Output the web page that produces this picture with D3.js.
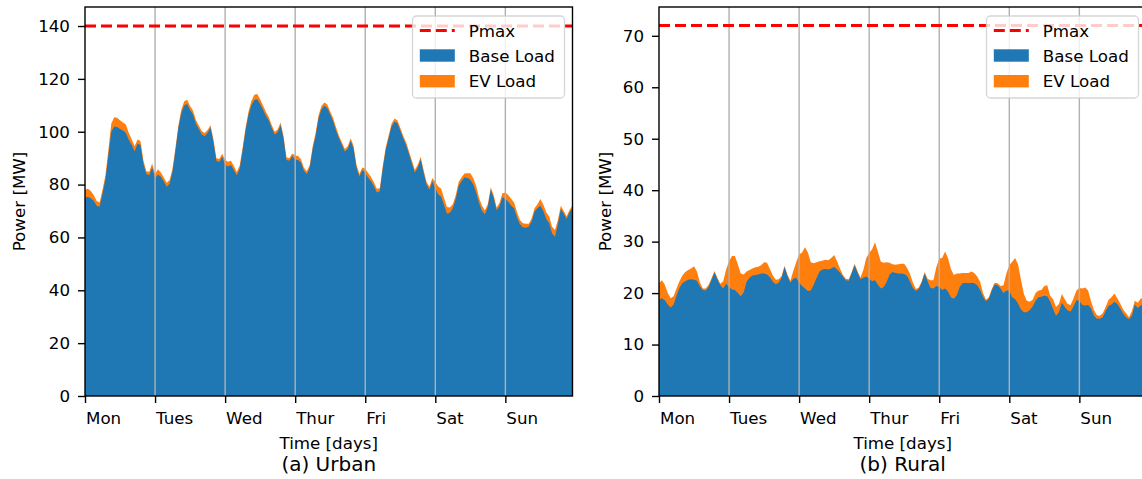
<!DOCTYPE html>
<html><head><meta charset="utf-8">
<script src="https://cdn.jsdelivr.net/npm/d3@7"></script>
<style>body{margin:0;background:#fff}svg{display:block}text{font-family:"DejaVu Sans",sans-serif}</style>
</head><body>
<svg id="c" width="1142" height="479"></svg>
<script>
const dayLabels = ["Mon","Tues","Wed","Thur","Fri","Sat","Sun"];
const dayTickHours = [0,24,48,72,96,120,144];
const urbanYTicks = [0,20,40,60,80,100,120,140];
const ruralYTicks = [0,10,20,30,40,50,60,70];
const urbanPmax = 140;
const ruralPmax = 72;
const legendLabels = ["Pmax","Base Load","EV Load"];

const urbanBase = [
75.0,75.4,74.8,73.8,72.0,71.6,76.5,82.0,91.0,100.0,102.0,101.8,101.0,100.5,99.5,97.0,95.0,92.5,95.5,95.0,88.0,84.0,83.5,86.5,
82.4,83.8,83.0,81.2,79.2,80.3,85.0,93.0,101.5,107.0,110.0,110.5,108.2,106.5,103.0,101.0,99.0,98.3,99.5,101.5,96.2,89.0,88.5,90.5,
87.5,86.8,87.4,85.5,83.5,86.0,93.0,100.5,106.3,110.0,112.0,112.3,110.5,108.3,106.0,104.2,101.3,99.0,99.8,102.5,97.5,89.3,89.0,90.8,
89.5,89.3,88.3,85.2,84.0,86.5,93.5,98.5,105.0,108.5,109.8,109.0,106.5,104.0,100.5,97.5,95.0,92.5,93.5,96.5,93.7,86.5,83.0,85.5,
84.5,82.6,81.3,79.3,77.0,77.5,86.0,93.0,97.5,102.0,103.8,103.3,100.5,97.5,95.0,91.5,88.0,84.5,86.5,89.5,84.5,80.0,78.0,81.3,
78.5,76.3,75.4,72.3,69.0,69.3,71.0,74.5,79.5,81.3,82.7,82.5,81.8,80.0,77.0,73.0,70.0,68.8,71.5,78.0,75.0,70.3,71.8,75.2,
74.5,73.5,72.0,71.0,67.5,65.0,63.9,63.7,64.0,66.0,69.8,71.0,72.0,70.0,67.0,65.5,61.5,60.3,65.0,70.8,69.0,67.0,69.5,71.0
];
const urbanEV = [
3.0,3.0,2.8,2.2,1.8,1.6,1.5,1.5,2.0,3.0,3.5,3.5,3.3,3.0,3.2,2.5,2.2,2.0,1.6,1.5,1.2,1.0,1.4,1.5,
1.6,2.0,1.6,1.5,1.5,1.4,1.2,1.0,1.0,1.4,1.5,1.6,1.5,1.5,1.4,1.4,1.3,1.2,1.2,1.0,1.0,1.0,1.2,1.2,
1.8,1.8,1.6,1.5,1.3,1.2,1.0,1.0,1.3,1.6,2.0,2.0,1.8,1.6,1.5,1.3,1.2,1.0,1.0,1.0,1.0,1.0,1.0,1.0,
1.5,1.5,1.3,1.2,1.0,1.0,1.0,1.0,1.2,1.2,1.3,1.3,1.2,1.2,1.2,1.0,1.0,1.0,1.0,1.0,1.0,1.0,1.0,1.0,
1.5,1.8,1.6,1.5,1.3,1.2,1.0,1.0,1.0,1.0,1.2,1.0,1.0,1.0,1.0,1.0,1.0,1.0,1.0,1.0,1.0,1.0,1.2,1.2,
2.5,3.0,3.0,2.6,2.5,2.0,1.6,1.5,1.5,1.5,1.5,1.8,2.5,2.5,2.5,2.0,2.0,1.5,1.2,1.0,1.0,1.0,1.2,1.5,
2.5,2.6,2.5,2.2,2.0,1.6,1.5,1.5,1.2,1.2,1.2,1.6,2.5,2.5,2.5,2.5,2.5,2.5,1.6,1.2,1.0,1.0,1.0,1.0
];
const ruralBase = [
18.7,19.0,18.6,17.8,17.2,17.8,19.5,21.0,21.9,22.3,22.6,22.7,22.6,22.4,21.3,20.6,20.5,21.2,22.6,24.0,22.7,21.5,20.9,21.8,
21.2,20.7,20.6,20.0,19.4,20.1,22.2,23.0,23.4,23.5,23.6,23.8,23.8,23.6,23.1,22.2,21.7,22.0,23.0,25.0,23.3,22.0,22.8,23.0,
22.0,21.4,20.9,20.4,20.5,21.6,23.0,24.2,24.6,24.7,24.6,24.8,25.1,24.6,24.0,23.2,22.5,22.4,23.8,25.4,24.0,22.7,23.0,23.2,
22.8,22.3,22.5,21.6,20.9,21.2,22.2,23.6,24.1,23.9,23.8,23.8,23.7,23.3,22.2,21.0,20.4,20.8,22.0,23.8,22.3,21.0,20.9,21.4,
21.2,20.6,20.9,20.3,19.2,18.9,19.6,21.2,21.9,22.0,21.9,22.0,21.9,21.5,20.6,19.3,18.4,18.9,20.5,21.7,21.5,20.9,20.0,20.5,
20.4,19.2,18.8,18.0,16.8,16.3,16.3,16.7,17.4,18.5,19.2,19.3,19.5,19.4,18.3,16.9,15.6,16.3,18.1,17.3,16.6,16.4,17.4,18.6,
18.5,17.7,17.6,17.7,17.0,15.6,15.0,15.0,15.3,16.5,17.5,17.8,18.3,17.9,17.0,16.0,15.3,14.9,15.6,17.8,17.1,17.6,17.8,17.8
];
const ruralEV = [
3.2,3.5,3.0,2.2,1.8,1.6,1.4,1.3,1.5,1.8,1.9,2.1,2.6,1.8,0.8,0.3,0.4,0.4,0.3,0.3,0.3,0.3,1.4,2.8,
5.0,6.5,6.6,5.6,4.4,3.5,2.0,1.5,1.4,1.5,1.5,1.6,2.2,2.3,1.6,1.2,0.9,0.7,0.3,0.3,0.3,0.4,1.5,3.0,
5.5,6.5,8.0,7.5,5.5,4.2,3.0,2.0,1.7,1.8,1.8,2.0,2.3,1.6,0.8,0.3,0.3,0.3,0.3,0.3,0.3,0.3,1.5,3.6,
5.0,6.2,7.4,6.4,5.2,4.7,3.8,2.3,1.5,1.6,1.8,1.9,2.0,1.6,1.5,1.0,0.4,0.3,0.3,0.3,0.5,1.5,1.6,3.6,
5.5,6.2,7.2,6.5,5.5,4.6,4.2,2.6,2.0,1.9,2.0,2.2,2.0,1.7,1.6,0.7,0.3,0.3,0.3,0.3,0.4,0.5,1.5,3.3,
5.0,6.9,8.0,7.6,5.8,3.5,2.2,1.6,1.3,1.5,1.3,1.3,1.9,2.1,1.2,1.9,1.7,1.6,1.7,1.5,1.3,1.3,1.6,1.9,
2.5,3.2,3.5,2.8,1.4,1.1,0.7,0.6,0.8,0.8,1.2,1.4,1.6,1.1,1.0,0.8,0.8,0.4,0.9,0.7,1.0,1.3,1.3,1.3
];

const svg = d3.select('#c');
const TOP = 7, BOTTOM = 396;
const FS = '16.7px';
const BLUE = '#1f77b4', ORANGE = '#ff7f0e';

function drawPanel(cfg) {
  const x = d3.scaleLinear().domain([0, cfg.base.length - 1]).range([cfg.left, cfg.right]);
  const y = d3.scaleLinear().domain([0, cfg.yMax]).range([BOTTOM, TOP]);
  const g = svg.append('g');
  const pts = cfg.base.map((b, i) => ({h: i, b: b, t: b + cfg.ev[i]}));

  g.append('path').datum(pts).attr('fill', ORANGE)
    .attr('d', d3.area().x(d => x(d.h)).y0(y(0)).y1(d => y(d.t)));
  g.append('path').datum(pts).attr('fill', BLUE)
    .attr('d', d3.area().x(d => x(d.h)).y0(y(0)).y1(d => y(d.b)));

  g.selectAll('line.grid').data(dayTickHours.slice(1)).join('line')
    .attr('class', 'grid')
    .attr('x1', d => x(d)).attr('x2', d => x(d))
    .attr('y1', TOP).attr('y2', BOTTOM)
    .attr('stroke', '#b0b0b0').attr('stroke-width', 1.4);

  g.append('line')
    .attr('x1', x(0)).attr('x2', cfg.right)
    .attr('y1', y(cfg.pmax)).attr('y2', y(cfg.pmax))
    .attr('stroke', '#ff0000').attr('stroke-width', 3)
    .attr('stroke-dasharray', '11,5');

  // spines
  g.append('rect').attr('x', cfg.left).attr('y', TOP)
    .attr('width', cfg.right - cfg.left).attr('height', BOTTOM - TOP)
    .attr('fill', 'none').attr('stroke', '#000').attr('stroke-width', 1.4);

  // y axis
  const ya = g.append('g').attr('transform', `translate(${cfg.left},0)`)
    .call(d3.axisLeft(y).tickValues(cfg.yTicks).tickSize(7).tickPadding(8));
  ya.select('.domain').remove();
  ya.selectAll('line').attr('stroke', '#000').attr('stroke-width', 1.4);
  ya.selectAll('text').attr('font-size', FS).attr('fill', '#000')
    .attr('font-family', '"DejaVu Sans", sans-serif');

  // x axis
  const xa = g.append('g').attr('transform', `translate(0,${BOTTOM})`)
    .call(d3.axisBottom(x).tickValues(dayTickHours).tickSize(7).tickPadding(9.3)
      .tickFormat((d, i) => dayLabels[i]));
  xa.select('.domain').remove();
  xa.selectAll('line').attr('stroke', '#000').attr('stroke-width', 1.4);
  xa.selectAll('text').attr('font-size', FS).attr('fill', '#000')
    .attr('text-anchor', 'start').attr('x', 0.5)
    .attr('font-family', '"DejaVu Sans", sans-serif');

  const cx = (cfg.left + 572.5 + (cfg.left - 85)) / 2;
  const midX = cfg.left + (572.5 - 85) / 2;
  g.append('text').attr('x', midX).attr('y', 449).attr('text-anchor', 'middle')
    .attr('font-size', FS).text('Time [days]');
  g.append('text').attr('x', midX).attr('y', 471).attr('text-anchor', 'middle')
    .attr('font-size', '20px').text(cfg.title);
  g.append('text').attr('transform', `translate(${cfg.ylabX},${(TOP + BOTTOM) / 2}) rotate(-90)`)
    .attr('text-anchor', 'middle').attr('dy', '0.35em')
    .attr('font-size', FS).text('Power [MW]');

  // legend
  const lg = g.append('g').attr('transform', `translate(${cfg.right - 160},16)`);
  lg.append('rect').attr('width', 152).attr('height', 82).attr('rx', 4)
    .attr('fill', '#fff').attr('fill-opacity', 0.8)
    .attr('stroke', '#cccccc').attr('stroke-opacity', 0.8).attr('stroke-width', 1.3);
  lg.append('line').attr('x1', 7.3).attr('x2', 42.3).attr('y1', 14.5).attr('y2', 14.5)
    .attr('stroke', '#ff0000').attr('stroke-width', 3).attr('stroke-dasharray', '11,5');
  lg.append('rect').attr('x', 7.3).attr('y', 33.3).attr('width', 35).attr('height', 12.4).attr('fill', BLUE);
  lg.append('rect').attr('x', 7.3).attr('y', 59).attr('width', 35).attr('height', 12.4).attr('fill', ORANGE);
  const ly = [20.7, 46.3, 71.3];
  legendLabels.forEach((t, i) => {
    lg.append('text').attr('x', 56.3).attr('y', ly[i]).attr('font-size', FS).text(t);
  });
}

drawPanel({left: 85, right: 572.5, yMax: 147.2, base: urbanBase, ev: urbanEV,
  pmax: urbanPmax, yTicks: urbanYTicks, title: '(a) Urban', ylabX: 19});
drawPanel({left: 659, right: 1146.5, yMax: 75.6, base: ruralBase, ev: ruralEV,
  pmax: ruralPmax, yTicks: ruralYTicks, title: '(b) Rural', ylabX: 605});
</script>
</body></html>
